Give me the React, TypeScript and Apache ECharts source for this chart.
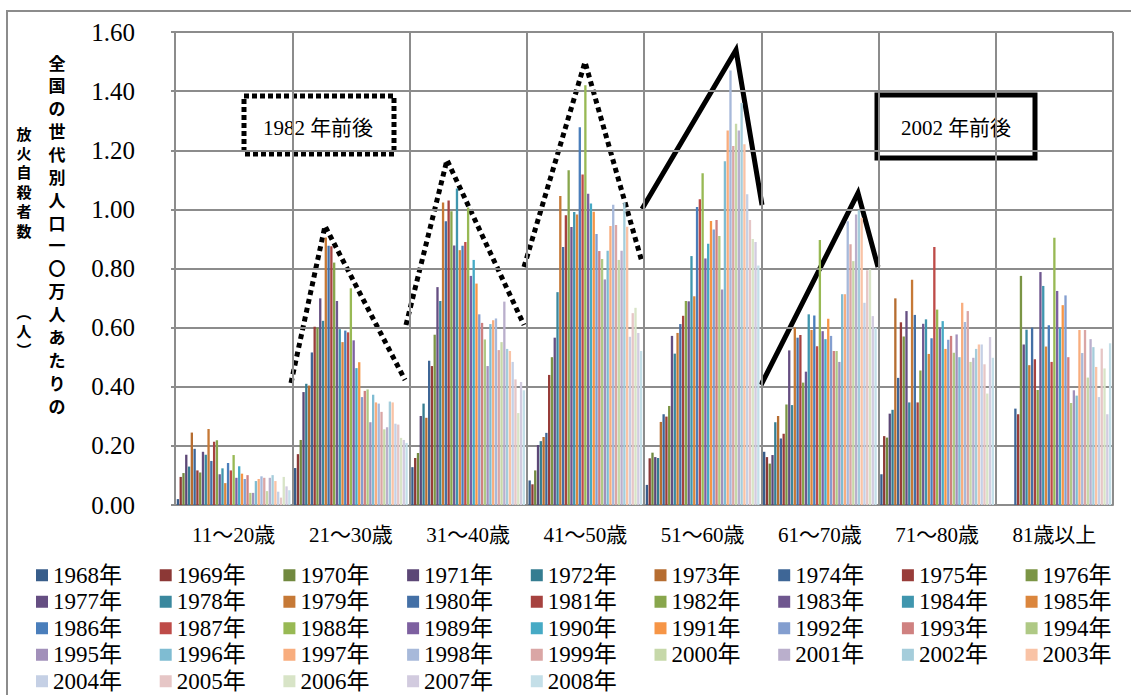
import React, { useEffect, useRef } from 'react';
import * as echarts from 'echarts';

const categories = ['11～20歳', '21～30歳', '31～40歳', '41～50歳', '51～60歳', '61～70歳', '71～80歳', '81歳以上'];

const years = [
  '1968年', '1969年', '1970年', '1971年', '1972年', '1973年', '1974年', '1975年', '1976年',
  '1977年', '1978年', '1979年', '1980年', '1981年', '1982年', '1983年', '1984年', '1985年',
  '1986年', '1987年', '1988年', '1989年', '1990年', '1991年', '1992年', '1993年', '1994年',
  '1995年', '1996年', '1997年', '1998年', '1999年', '2000年', '2001年', '2002年', '2003年',
  '2004年', '2005年', '2006年', '2007年', '2008年',
];

const colors = [
  '#385D8A', '#8C3836', '#71893F', '#5C4776', '#357D91', '#B66D31', '#3E6696', '#983C39', '#7B9545',
  '#654E82', '#3A889E', '#C67936', '#4470A6', '#A6423F', '#88A64C', '#6F578F', '#4096AE', '#DB863D',
  '#4A7EBB', '#BE4B48', '#98B954', '#7D60A0', '#46AAC5', '#F69546', '#839ECF', '#CF8180', '#AFC985',
  '#A290BA', '#7FBCD2', '#F8AD7E', '#A7B9DA', '#DAA6A5', '#C6D8A9', '#BAAFCC', '#A5CDDB', '#F9C3A6',
  '#C5D0E5', '#E6C6C6', '#D8E4C7', '#D2CBDF', '#C4DFE8',
];

// values per age group, 1968..2008
const age11to20 = [0.02, 0.095, 0.108, 0.17, 0.13, 0.245, 0.19, 0.117, 0.11, 0.18, 0.17, 0.257, 0.149, 0.214, 0.219, 0.104, 0.124, 0.074, 0.142, 0.117, 0.169, 0.092, 0.131, 0.106, 0.088, 0.101, 0.041, 0.041, 0.081, 0.088, 0.097, 0.092, 0.047, 0.092, 0.101, 0.081, 0.045, 0.025, 0.095, 0.063, 0.05];
const age21to30 = [0.125, 0.172, 0.22, 0.382, 0.41, 0.404, 0.516, 0.603, 0.6, 0.699, 0.623, 0.905, 0.877, 0.875, 0.82, 0.69, 0.595, 0.551, 0.59, 0.584, 0.733, 0.557, 0.463, 0.483, 0.365, 0.386, 0.391, 0.28, 0.373, 0.347, 0.343, 0.315, 0.256, 0.263, 0.35, 0.347, 0.275, 0.272, 0.227, 0.22, 0.21];
const age31to40 = [0.128, 0.159, 0.176, 0.301, 0.343, 0.295, 0.488, 0.47, 0.576, 0.737, 0.69, 1.023, 0.96, 1.03, 0.994, 0.878, 1.071, 0.862, 0.877, 0.89, 1.006, 0.775, 0.829, 0.749, 0.645, 0.616, 0.56, 0.47, 0.612, 0.625, 0.631, 0.524, 0.551, 0.688, 0.528, 0.521, 0.484, 0.425, 0.311, 0.416, 0.388];
const age41to50 = [0.083, 0.07, 0.117, 0.203, 0.216, 0.23, 0.244, 0.44, 0.5, 0.566, 0.72, 1.045, 0.873, 0.98, 1.132, 0.94, 0.991, 0.983, 1.278, 1.118, 1.42, 1.053, 1.02, 0.992, 0.917, 0.859, 0.832, 0.763, 0.86, 0.944, 1.016, 0.947, 0.829, 0.86, 1.023, 0.941, 0.569, 0.649, 0.667, 0.582, 0.521];
const age51to60 = [0.068, 0.158, 0.177, 0.162, 0.159, 0.281, 0.307, 0.299, 0.335, 0.572, 0.512, 0.582, 0.612, 0.64, 0.69, 0.689, 0.842, 0.706, 1.008, 1.034, 1.122, 0.834, 0.884, 0.961, 0.932, 0.964, 0.91, 0.729, 1.163, 1.267, 1.47, 1.214, 1.29, 1.267, 1.36, 1.22, 1.051, 0.964, 0.9, 0.89, 0.81];
const age61to70 = [0.18, 0.162, 0.14, 0.169, 0.28, 0.301, 0.225, 0.241, 0.34, 0.523, 0.338, 0.6, 0.566, 0.575, 0.414, 0.451, 0.645, 0.592, 0.641, 0.537, 0.896, 0.588, 0.561, 0.63, 0.572, 0.521, 0.521, 0.484, 0.713, 0.713, 0.96, 0.882, 0.825, 0.983, 0.997, 0.972, 0.684, 0.794, 0.797, 0.639, 0.6];
const age71to80 = [0.104, 0.233, 0.228, 0.309, 0.322, 0.699, 0.43, 0.618, 0.57, 0.656, 0.347, 0.762, 0.643, 0.347, 0.455, 0.613, 0.628, 0.511, 0.564, 0.873, 0.661, 0.6, 0.622, 0.528, 0.559, 0.572, 0.515, 0.577, 0.5, 0.684, 0.619, 0.656, 0.484, 0.498, 0.528, 0.543, 0.543, 0.476, 0.377, 0.568, 0.498];
const age81plus = [null, null, null, null, null, null, 0.326, 0.307, 0.775, 0.543, 0.593, 0.473, 0.6, 0.493, 0.389, 0.788, 0.741, 0.536, 0.608, 0.484, 0.904, 0.724, 0.6, 0.676, 0.709, 0.5, 0.345, 0.388, 0.37, 0.592, 0.514, 0.592, 0.431, 0.561, 0.534, 0.467, 0.365, 0.529, 0.462, 0.307, 0.547];

const groups = [age11to20, age21to30, age31to40, age41to50, age51to60, age61to70, age71to80, age81plus];

const titleRight = ['全', '国', 'の', '世', '代', '別', '人', '口', '一', '〇', '万', '人', 'あ', 'た', 'り', 'の'];
const titleLeft = ['放', '火', '自', '殺', '者', '数'];
const titleUnit = ['︵', '人', '︶'];

const SERIF = '"Liberation Serif", "Noto Sans CJK JP", serif';
const GOTHIC = '"Noto Sans CJK JP", sans-serif';

export default function App() {
  const ref = useRef<HTMLDivElement>(null);
  useEffect(() => {
    if (!ref.current) return;
    const chart = echarts.init(ref.current, null, { renderer: 'svg' });

    const series = years.map((name, i) => ({
      type: 'bar',
      name,
      data: groups.map((g) => g[i]),
      itemStyle: { color: colors[i] },
      barGap: '20%',
      barCategoryGap: '3%',
    }));

    const colX = [36, 159.7, 283.4, 407.1, 530.8, 654.5, 778.2, 901.9, 1025.6];
    const legends = colX.map((x, c) => ({
      orient: 'vertical',
      left: x,
      top: 562,
      padding: 0,
      itemGap: 0,
      itemWidth: 12,
      itemHeight: 12,
      icon: 'rect',
      selectedMode: false,
      data: years.filter((_, i) => i % 9 === c),
      textStyle: { fontFamily: SERIF, fontSize: 23, color: '#000', lineHeight: 26.5 },
    }));

    const dotted = { stroke: '#000', lineWidth: 5, lineDash: [5, 4], fill: null };
    const solid = { stroke: '#000', lineWidth: 5, fill: null };

    const charText = (ch: string, x: number, y: number, size: number) => ({
      type: 'text',
      x,
      y,
      style: { text: ch, fontFamily: GOTHIC, fontWeight: 'bold', fontSize: size, fill: '#000', textAlign: 'center', textVerticalAlign: 'middle' },
    });

    const titleTexts = [
      ...titleRight.map((ch, i) => charText(ch, 57, 62 + i * 22.87, 17)),
      ...titleLeft.map((ch, i) => charText(ch, 24, 133 + i * 19.4, 15)),
      ...titleUnit.map((ch, i) => charText(ch, 24, 311 + i * 19.4, 15)),
    ];

    chart.setOption({
      animation: false,
      backgroundColor: '#fff',
      grid: { left: 175, right: 18, top: 32, bottom: 190, containLabel: false },
      legend: legends,
      xAxis: {
        type: 'category',
        data: categories,
        axisLine: { show: true, lineStyle: { color: '#8c8c8c', width: 2 } },
        axisTick: { show: false },
        splitLine: { show: true, interval: 0, lineStyle: { color: '#8c8c8c', width: 2 } },
        axisLabel: { fontFamily: SERIF, fontSize: 21, color: '#000', margin: 19, interval: 0 },
      },
      yAxis: {
        type: 'value',
        min: 0,
        max: 1.6,
        interval: 0.2,
        axisLine: { show: true, lineStyle: { color: '#8c8c8c', width: 2 } },
        axisTick: { show: true, length: 4, lineStyle: { color: '#8c8c8c', width: 2 } },
        splitLine: { show: true, lineStyle: { color: '#8c8c8c', width: 2 } },
        axisLabel: {
          fontFamily: SERIF,
          fontSize: 25,
          color: '#000',
          margin: 40,
          formatter: (v: number) => v.toFixed(2),
        },
      },
      series,
      graphic: [
        { type: 'rect', shape: { x: 7, y: 11, width: 1200, height: 800 }, style: { stroke: '#8c8c8c', lineWidth: 2, fill: null }, silent: true },
        ...titleTexts,
        { type: 'rect', shape: { x: 244, y: 96, width: 150, height: 58 }, style: { ...dotted, lineDash: [5, 3] } },
        { type: 'text', x: 318, y: 128, style: { text: '1982 年前後', fontFamily: SERIF, fontSize: 21, fill: '#000', textAlign: 'center', textVerticalAlign: 'middle' } },
        { type: 'rect', shape: { x: 877, y: 95, width: 158, height: 63 }, style: solid },
        { type: 'text', x: 956, y: 128, style: { text: '2002 年前後', fontFamily: SERIF, fontSize: 21, fill: '#000', textAlign: 'center', textVerticalAlign: 'middle' } },
        { type: 'polyline', shape: { points: [[291, 383], [325, 226], [405, 380]] }, style: dotted },
        { type: 'polyline', shape: { points: [[406, 325], [447, 160], [524, 325]] }, style: dotted },
        { type: 'polyline', shape: { points: [[524, 267], [585, 62], [642, 262]] }, style: dotted },
        { type: 'polyline', shape: { points: [[642, 209], [736, 50], [762, 205]] }, style: solid },
        { type: 'polyline', shape: { points: [[761, 385], [858, 193], [878, 267]] }, style: solid },
      ],
    });
    return () => chart.dispose();
  }, []);
  return <div ref={ref} style={{ position: 'fixed', left: 0, top: 0, width: 1131, height: 695 }} />;
}
